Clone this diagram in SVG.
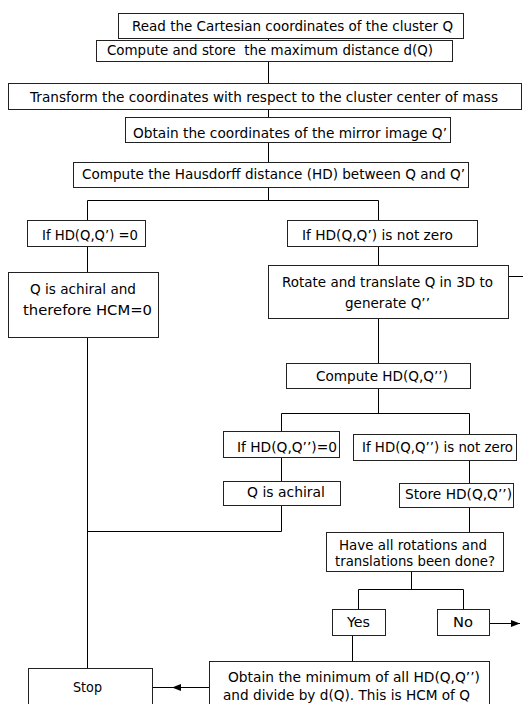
<svg xmlns="http://www.w3.org/2000/svg" width="523" height="704" viewBox="0 0 523 704">
<style>
rect{fill:#fff;stroke:#222;stroke-width:1}
.c{fill:none;stroke:#000;stroke-width:1}
text{font-family:"DejaVu Sans","Liberation Sans",sans-serif;font-size:13.4px;fill:#000;text-anchor:middle}
</style>
<defs>
<marker id="ah" markerUnits="userSpaceOnUse" markerWidth="10" markerHeight="8" refX="9" refY="3.5" orient="auto">
<path d="M0,0 L9,3.5 L0,7 z" fill="#000"/>
</marker>
</defs>
<rect width="523" height="704" style="fill:#fff;stroke:none"/>
<g id="connectors">
<path class="c" d="M268.5,38 V40 M268.5,61 V83 M268.5,109 V117 M268.5,142 V162 M268.5,187 V200"/>
<path class="c" d="M87.5,220 V200.5 H378.5 V220"/>
<path class="c" d="M87.5,246 V272 M87.5,337 V668"/>
<path class="c" d="M378.5,246 V265 M378.5,318 V363 M378.5,388 V413"/>
<path class="c" d="M508,276.5 H523"/>
<path class="c" d="M281.5,431 V413.5 H469.5 V434"/>
<path class="c" d="M281.5,457 V481 M469.5,460 V483"/>
<path class="c" d="M281.5,505 V531.5 H87.5"/>
<path class="c" d="M469.5,507 V532"/>
<path class="c" d="M411.5,571 V589.5 M358.5,609 V589.5 H463.5 V609"/>
<path class="c" d="M352.5,635 V661"/>
<path class="c" d="M489,623.5 H520" marker-end="url(#ah)"/>
<path class="c" d="M209,687.5 H172" marker-end="url(#ah)"/>
<path class="c" d="M173,687.5 H152"/>
</g>
<g id="n1"><rect x="118.5" y="13.5" width="345" height="25"/><text x="292.5" y="31" textLength="321" lengthAdjust="spacingAndGlyphs">Read the Cartesian coordinates of the cluster Q</text></g>
<g id="n2"><rect x="96.5" y="40.5" width="356" height="21"/><text x="270" y="55" style="white-space:pre" textLength="326" lengthAdjust="spacingAndGlyphs">Compute and store  the maximum distance d(Q)</text></g>
<g id="n3"><rect x="8.5" y="83.5" width="513" height="26"/><text x="264" y="102" textLength="468" lengthAdjust="spacingAndGlyphs">Transform the coordinates with respect to the cluster center of mass</text></g>
<g id="n4"><rect x="125.5" y="117.5" width="325" height="25"/><text x="290" y="138" textLength="314" lengthAdjust="spacingAndGlyphs">Obtain the coordinates of the mirror image Q’</text></g>
<g id="n5"><rect x="73.5" y="162.5" width="395" height="25"/><text x="273.5" y="179" textLength="383" lengthAdjust="spacingAndGlyphs">Compute the Hausdorff distance (HD) between Q and Q’</text></g>
<g id="n6"><rect x="27.5" y="220.5" width="118" height="26"/><text x="90" y="240" textLength="96" lengthAdjust="spacingAndGlyphs">If HD(Q,Q’) =0</text></g>
<g id="n7"><rect x="287.5" y="220.5" width="190" height="26"/><text x="377.5" y="240" textLength="151" lengthAdjust="spacingAndGlyphs">If HD(Q,Q’) is not zero</text></g>
<g id="n8"><rect x="8.5" y="272.5" width="150" height="65"/><text x="83" y="294" textLength="106" lengthAdjust="spacingAndGlyphs">Q is achiral and</text><text x="87.5" y="315" textLength="129" lengthAdjust="spacingAndGlyphs">therefore HCM=0</text></g>
<g id="n9"><rect x="268.5" y="265.5" width="240" height="53"/><text x="387.5" y="287" textLength="211" lengthAdjust="spacingAndGlyphs">Rotate and translate Q in 3D to</text><text x="387.5" y="308" textLength="85" lengthAdjust="spacingAndGlyphs">generate Q’’</text></g>
<g id="n10"><rect x="286.5" y="363.5" width="184" height="25"/><text x="382" y="381" textLength="132" lengthAdjust="spacingAndGlyphs">Compute HD(Q,Q’’)</text></g>
<g id="n11"><rect x="223.5" y="431.5" width="116" height="26"/><text x="287" y="452" textLength="100" lengthAdjust="spacingAndGlyphs">If HD(Q,Q’’)=0</text></g>
<g id="n12"><rect x="353.5" y="434.5" width="163" height="26"/><text x="437.5" y="452" textLength="151" lengthAdjust="spacingAndGlyphs">If HD(Q,Q’’) is not zero</text></g>
<g id="n13"><rect x="223.5" y="481.5" width="117" height="24"/><text x="286" y="497" textLength="78" lengthAdjust="spacingAndGlyphs">Q is achiral</text></g>
<g id="n14"><rect x="399.5" y="483.5" width="114" height="24"/><text x="458.5" y="499" textLength="107" lengthAdjust="spacingAndGlyphs">Store HD(Q,Q’’)</text></g>
<g id="n15"><rect x="326.5" y="532.5" width="177" height="39"/><text x="413" y="550" textLength="148" lengthAdjust="spacingAndGlyphs">Have all rotations and</text><text x="415" y="566" textLength="160" lengthAdjust="spacingAndGlyphs">translations been done?</text></g>
<g id="n16"><rect x="332.5" y="609.5" width="53" height="26"/><text x="358.5" y="627" textLength="23" lengthAdjust="spacingAndGlyphs">Yes</text></g>
<g id="n17"><rect x="437.5" y="609.5" width="52" height="26"/><text x="463" y="627" textLength="20" lengthAdjust="spacingAndGlyphs">No</text></g>
<g id="n18"><rect x="209.5" y="661.5" width="280" height="50"/><text x="354" y="682" textLength="252" lengthAdjust="spacingAndGlyphs">Obtain the minimum of all HD(Q,Q’’)</text><text x="346.5" y="700" textLength="247" lengthAdjust="spacingAndGlyphs">and divide by d(Q). This is HCM of Q</text></g>
<g id="n19"><rect x="28.5" y="668.5" width="124" height="50"/><text x="87.5" y="692" textLength="29" lengthAdjust="spacingAndGlyphs">Stop</text></g>
</svg>
